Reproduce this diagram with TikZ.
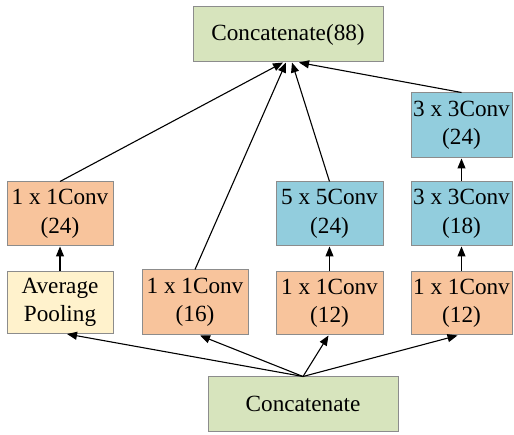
\documentclass[tikz,border=0pt]{standalone}
\usepackage{fontspec}
\setmainfont{Liberation Serif}
\usetikzlibrary{arrows.meta}

\definecolor{catgreen}{RGB}{215,228,189}
\definecolor{convorange}{RGB}{248,196,156}
\definecolor{convblue}{RGB}{146,205,221}
\definecolor{poolcream}{RGB}{255,242,204}
\definecolor{edgegray}{RGB}{140,140,140}

\tikzset{
  block/.style={draw=edgegray, line width=1pt, rectangle, align=center,
    font=\rmfamily\fontsize{23.2}{28.5}\selectfont, inner sep=0pt},
  flow/.style={-{Triangle[length=10pt,width=8pt]}, line width=1.1pt}
}

\begin{document}
\begin{tikzpicture}[x=1pt, y=-1pt]
                \useasboundingbox (0,0) rectangle (514,435);

                \node[block, fill=catgreen, minimum width=190, minimum height=55] (concat88) at (288,34.5) {Concatenate(88)};
                
                \node[block, fill=convorange, minimum width=106, minimum height=64] (convA) at (60,214) {1 x 1Conv\\(24)};
                \node[block, fill=poolcream, minimum width=106, minimum height=62] (pool) at (60,302.5) {Average\\Pooling};
                \node[block, fill=convorange, minimum width=106, minimum height=65] (convB) at (195,302.5) {1 x 1Conv\\(16)};
                \node[block, fill=convblue, minimum width=107, minimum height=64] (convC) at (329.5,214) {5 x 5Conv\\(24)};
                \node[block, fill=convorange, minimum width=107, minimum height=63] (convD) at (329.5,303.5) {1 x 1Conv\\(12)};
                \node[block, fill=convblue, minimum width=101, minimum height=65] (convE) at (461.5,125.5) {3 x 3Conv\\(24)};
                \node[block, fill=convblue, minimum width=101, minimum height=64] (convF) at (461.5,214) {3 x 3Conv\\(18)};
                \node[block, fill=convorange, minimum width=101, minimum height=63] (convG) at (461.5,303.5) {1 x 1Conv\\(12)};
                
                \node[block, fill=catgreen, minimum width=190, minimum height=54] (concat) at (303,404) {Concatenate};
                
                % vertical links inside the branches
                \draw[flow] (pool) -- (convA);
                \draw[flow] (convD) -- (convC);
                \draw[flow] (convG) -- (convF);
                \draw[flow] (convF) -- (convE);
                
                % input fan-out
                \draw[flow] (concat.north) -- ([xshift=7]pool.south);
                \draw[flow] (concat.north) -- ([xshift=5]convB.south);
                \draw[flow] (concat.north) -- ([xshift=-1]convD.south);
                \draw[flow] (concat.north) -- ([xshift=-4]convG.south);
                
                % output fan-in
                \draw[flow] (convA.north) -- ([xshift=-5]concat88.south);
                \draw[flow] (convB.north) -- ([xshift=-2]concat88.south);
                \draw[flow] (convC.north) -- ([xshift=4]concat88.south);
                \draw[flow] (convE.north) -- ([xshift=11]concat88.south);
                \end{tikzpicture}
\end{document}
